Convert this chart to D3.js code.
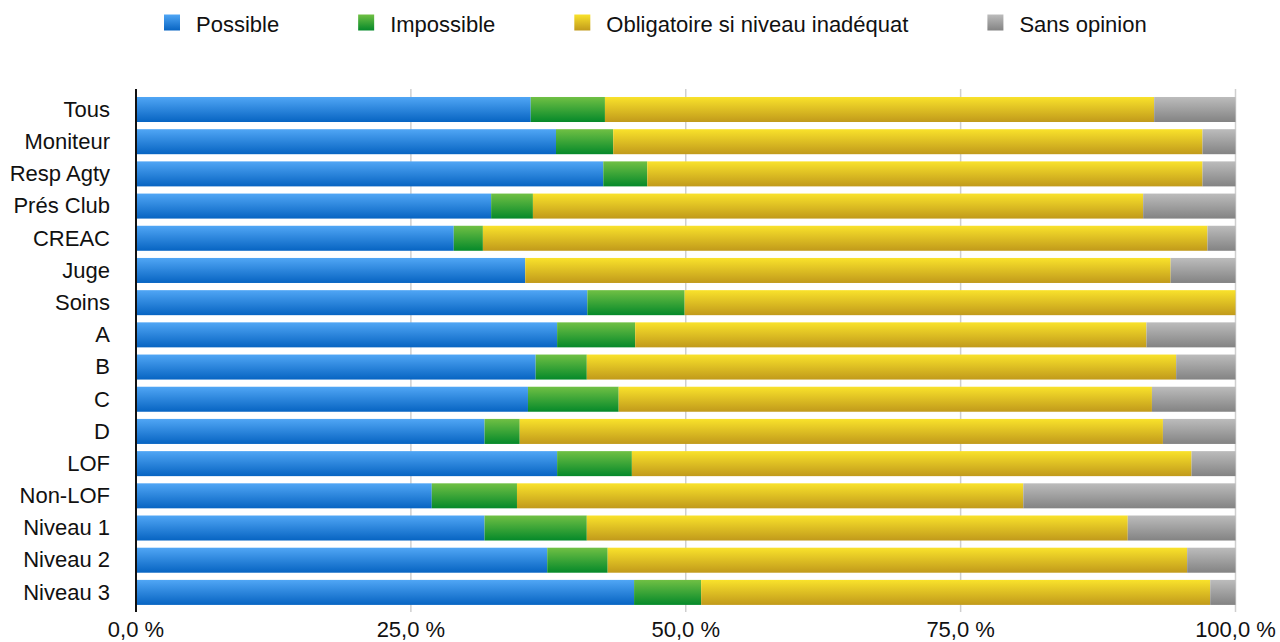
<!DOCTYPE html>
<html>
<head>
<meta charset="utf-8">
<script src="https://cdn.jsdelivr.net/npm/d3@7"></script>
<style>
  html, body { margin: 0; padding: 0; background: #fff; }
  svg { display: block; font-family: "Liberation Sans", Arial, Helvetica, sans-serif; }
</style>
</head>
<body>
<svg id="chart" width="1280" height="642"></svg>
<script>
// Survey answers per group, in percent of respondents
const categories = ["Tous", "Moniteur", "Resp Agty", "Prés Club", "CREAC", "Juge", "Soins",
  "A", "B", "C", "D", "LOF", "Non-LOF", "Niveau 1", "Niveau 2", "Niveau 3"];
const possible    = [35.9, 38.2, 42.5, 32.3, 28.9, 35.4, 41.05, 38.3, 36.35, 35.65, 31.7, 38.3, 26.9, 31.7, 37.4, 45.3];
const impossible  = [6.75, 5.2, 4.0, 3.8, 2.65, 0.0, 8.85, 7.1, 4.65, 8.25, 3.2, 6.8, 7.75, 9.3, 5.5, 6.1];
const obligatoire = [49.95, 53.6, 50.5, 55.5, 65.9, 58.7, 50.1, 46.5, 53.6, 48.5, 58.5, 50.9, 46.05, 49.2, 52.7, 46.3];
const sansOpinion = [7.4, 3.0, 3.0, 8.4, 2.55, 5.9, 0.0, 8.1, 5.4, 7.6, 6.6, 4.0, 19.3, 9.8, 4.4, 2.3];

const seriesNames = ["Possible", "Impossible", "Obligatoire si niveau inadéquat", "Sans opinion"];
const tickValues = [0, 25, 50, 75, 100];
const tickLabels = ["0,0 %", "25,0 %", "50,0 %", "75,0 %", "100,0 %"];

// colour ramps (top, bottom) for each series
const ramps = [
  ["#50a6f5", "#0764c2"],
  ["#70c044", "#05892a"],
  ["#f9e22b", "#c19a1b"],
  ["#bcbcbc", "#838383"]
];

const svg = d3.select("#chart");
const margin = { left: 136, right: 1235.5, top: 93.4, bottom: 608.5 };
const fontSize = 22;

const x = d3.scaleLinear().domain([0, 100]).range([margin.left, margin.right]);
const y = d3.scaleBand().domain(categories).range([margin.top, margin.bottom])
  .paddingInner(0.223).paddingOuter(0.1115);

// vertical gradients
const defs = svg.append("defs");
ramps.forEach((r, i) => {
  const g = defs.append("linearGradient").attr("id", "grad" + i)
    .attr("x1", 0).attr("y1", 0).attr("x2", 0).attr("y2", 1);
  g.append("stop").attr("offset", "0%").attr("stop-color", r[0]);
  g.append("stop").attr("offset", "100%").attr("stop-color", r[1]);
});

// gridlines
svg.append("g").selectAll("line")
  .data(tickValues.slice(1))
  .join("line")
  .attr("x1", d => x(d)).attr("x2", d => x(d))
  .attr("y1", 89).attr("y2", 612)
  .attr("stroke", "#cfcfcf").attr("stroke-width", 1.5);

// stacked bars
const rows = categories.map((c, i) => ({
  cat: c, s0: possible[i], s1: impossible[i], s2: obligatoire[i], s3: sansOpinion[i]
}));
const stacked = d3.stack().keys(["s0", "s1", "s2", "s3"])(rows);

svg.append("g").selectAll("g")
  .data(stacked)
  .join("g")
  .attr("fill", (d, i) => `url(#grad${i})`)
  .selectAll("rect")
  .data(d => d)
  .join("rect")
  .attr("x", d => x(d[0]))
  .attr("y", d => y(d.data.cat))
  .attr("width", d => Math.max(0, x(d[1]) - x(d[0])))
  .attr("height", y.bandwidth());

// left axis line
svg.append("line")
  .attr("x1", x(0)).attr("x2", x(0))
  .attr("y1", 89).attr("y2", 612)
  .attr("stroke", "#111").attr("stroke-width", 2);

// category labels
svg.append("g").selectAll("text")
  .data(categories)
  .join("text")
  .attr("x", 110)
  .attr("y", d => y(d) + y.bandwidth() / 2)
  .attr("dy", "0.33em")
  .attr("text-anchor", "end")
  .attr("font-size", fontSize)
  .attr("fill", "#111")
  .text(d => d);

// x tick labels
svg.append("g").selectAll("text")
  .data(tickValues)
  .join("text")
  .attr("x", d => x(d))
  .attr("y", 637)
  .attr("text-anchor", "middle")
  .attr("font-size", fontSize)
  .attr("fill", "#111")
  .text((d, i) => tickLabels[i]);

// legend
const legend = svg.append("g");
let lx = 164;
seriesNames.forEach((name, i) => {
  legend.append("rect")
    .attr("x", lx).attr("y", 14.5)
    .attr("width", 16).attr("height", 16)
    .attr("fill", `url(#grad${i})`);
  const t = legend.append("text")
    .attr("x", lx + 32).attr("y", 32)
    .attr("font-size", fontSize)
    .attr("fill", "#111")
    .text(name);
  lx += 32 + t.node().getComputedTextLength() + 79;
});
</script>
</body>
</html>
